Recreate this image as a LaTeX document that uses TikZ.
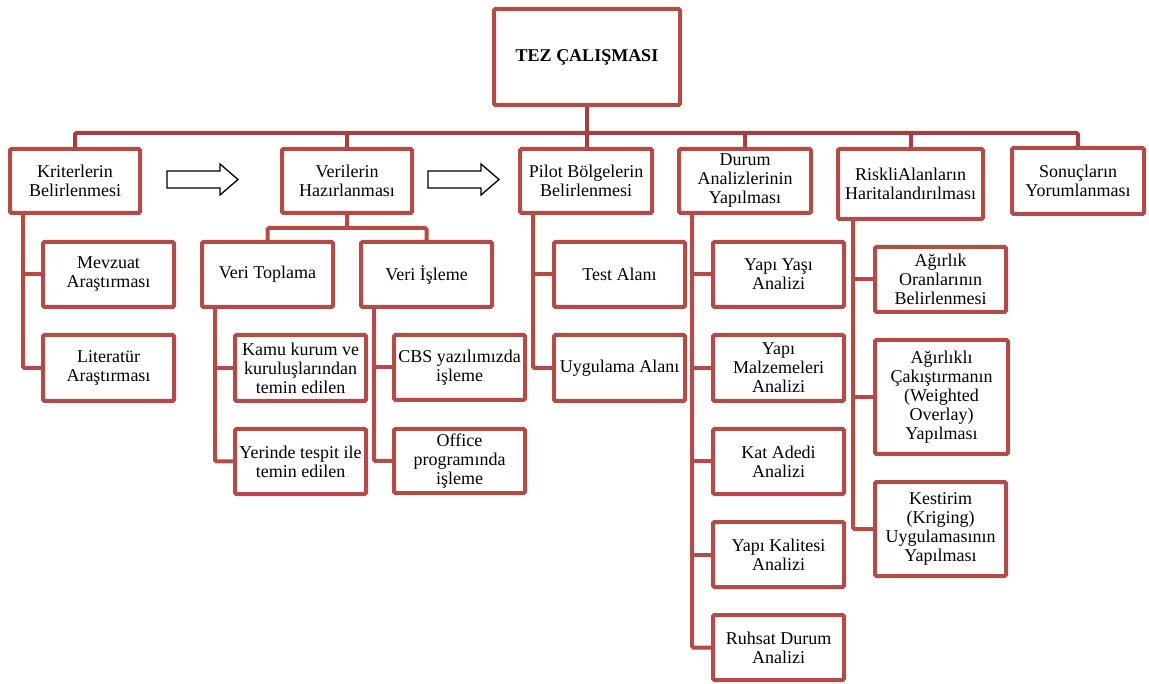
\documentclass[tikz,border=0pt]{standalone}
\usepackage{fontspec}
\setmainfont{Liberation Serif}
\usetikzlibrary{calc}
\definecolor{boxred}{RGB}{178,76,73}
\definecolor{busred}{RGB}{162,66,64}
\begin{document}
\begin{tikzpicture}[x=1pt,y=-1pt,
  box/.style={draw=boxred, line width=4pt, rounded corners=1.5pt, fill=white,
    align=center, inner sep=0pt, font=\fontsize{18}{19}\selectfont},
  conn/.style={draw=boxred, line width=4pt, rounded corners=1.5pt},
  busline/.style={conn, draw=busred},
  blockarrow/.style={draw=black, line width=1.3pt, fill=white, line join=miter}]
\useasboundingbox (0,0) rectangle (1149,684);

% top
\node[box, minimum width=186pt, minimum height=96pt,
  font=\bfseries\fontsize{18}{19}\selectfont] (tez) at (587,57) {TEZ ÇALIŞMASI};

% level 1
\node[box, minimum width=130pt, minimum height=64pt] (krit) at (75,181) {Kriterlerin\\Belirlenmesi};
\node[box, minimum width=130pt, minimum height=64pt] (veril) at (347,181) {Verilerin\\Hazırlanması};
\node[box, minimum width=132pt, minimum height=64pt] (pilot) at (586,181) {Pilot Bölgelerin\\Belirlenmesi};
\node[box, minimum width=132pt, minimum height=64pt] (durum) at (745,181) {Durum\\Analizlerinin\\Yapılması};
\node[box, minimum width=145pt, minimum height=70pt] (riskli) at (910.5,184) {RiskliAlanların\\Haritalandırılması};
\node[box, minimum width=132pt, minimum height=66pt] (sonuc) at (1078,181) {Sonuçların\\Yorumlanması};

% level 2
\node[box, minimum width=131pt, minimum height=65pt] (mevzuat) at (108.5,274.5) {Mevzuat\\Araştırması};
\node[box, minimum width=131pt, minimum height=66pt] (literatur) at (108.5,368) {Literatür\\Araştırması};
\node[box, minimum width=131pt, minimum height=65pt] (veritop) at (267.5,274.5) {Veri Toplama};
\node[box, minimum width=131pt, minimum height=65pt] (veriisl) at (426.5,274.5) {Veri İşleme};
\node[box, minimum width=131pt, minimum height=66pt] (kamu) at (300.5,368) {Kamu kurum ve\\kuruluşlarından\\temin edilen};
\node[box, minimum width=131pt, minimum height=65pt] (yerinde) at (300.5,461.5) {Yerinde tespit ile\\temin edilen};
\node[box, minimum width=131pt, minimum height=65pt] (cbs) at (459.5,367.5) {CBS yazılımızda\\işleme};
\node[box, minimum width=131pt, minimum height=64pt] (office) at (459.5,461) {Office\\programında\\işleme};
\node[box, minimum width=131pt, minimum height=65pt] (test) at (619.5,274.5) {Test Alanı};
\node[box, minimum width=131pt, minimum height=66pt] (uyg) at (619.5,368) {Uygulama Alanı};
\node[box, minimum width=131pt, minimum height=65pt] (yas) at (778.5,274.5) {Yapı Yaşı\\Analizi};
\node[box, minimum width=131pt, minimum height=66pt] (malz) at (778.5,368) {Yapı\\Malzemeleri\\Analizi};
\node[box, minimum width=131pt, minimum height=65pt] (kat) at (778.5,461.5) {Kat Adedi\\Analizi};
\node[box, minimum width=131pt, minimum height=65pt] (kalite) at (778.5,554.5) {Yapı Kalitesi\\Analizi};
\node[box, minimum width=131pt, minimum height=65pt] (ruhsat) at (778.5,647.5) {Ruhsat Durum\\Analizi};
\node[box, minimum width=131pt, minimum height=65pt] (agirlik) at (940.5,279.5) {Ağırlık\\Oranlarının\\Belirlenmesi};
\node[box, minimum width=133pt, minimum height=114pt] (agirlikli) at (941.5,397) {Ağırlıklı\\Çakıştırmanın\\(Weighted\\Overlay)\\Yapılması};
\node[box, minimum width=131pt, minimum height=94pt] (kestirim) at (940.5,529) {Kestirim\\(Kriging)\\Uygulamasının\\Yapılması};

% main bus
\coordinate (busy) at (0,133);
\draw[busline] (krit.north) |- (sonuc.north |- busy) -- (sonuc.north);
\draw[busline] (tez.south) -- (tez.south |- pilot.north);
\draw[busline] (veril.north |- busy) -- (veril.north);
\draw[busline] (durum.north |- busy) -- (durum.north);
\draw[busline] (riskli.north |- busy) -- (riskli.north);

% Kriterlerin children
\coordinate (k1) at ([xshift=15pt]krit.south west);
\draw[conn] (k1) |- (literatur.west);
\draw[conn] (k1 |- mevzuat.west) -- (mevzuat.west);

% Verilerin sub-bus
\coordinate (vb) at ($(veril.south)+(0,13)$);
\draw[conn] (veril.south) -- (vb);
\draw[conn] (veritop.north) |- (vb) -| (veriisl.north);

% Veri Toplama children
\coordinate (t1) at ([xshift=15pt]veritop.south west);
\draw[conn] (t1) |- (yerinde.west);
\draw[conn] (t1 |- kamu.west) -- (kamu.west);

% Veri Isleme children
\coordinate (i1) at ([xshift=15pt]veriisl.south west);
\draw[conn] (i1) |- (office.west);
\draw[conn] (i1 |- cbs.west) -- (cbs.west);

% Pilot children
\coordinate (p1) at ([xshift=15pt]pilot.south west);
\draw[conn] (p1) |- (uyg.west);
\draw[conn] (p1 |- test.west) -- (test.west);

% Durum children
\coordinate (d1) at ([xshift=15pt]durum.south west);
\draw[conn] (d1) |- (ruhsat.west);
\draw[conn] (d1 |- yas.west) -- (yas.west);
\draw[conn] (d1 |- malz.west) -- (malz.west);
\draw[conn] (d1 |- kat.west) -- (kat.west);
\draw[conn] (d1 |- kalite.west) -- (kalite.west);

% Riskli children
\coordinate (r1) at ([xshift=17pt]riskli.south west);
\draw[conn] (r1) |- (kestirim.west);
\draw[conn] (r1 |- agirlik.west) -- (agirlik.west);
\draw[conn] (r1 |- agirlikli.west) -- (agirlikli.west);

% block arrows
\draw[blockarrow] (167,171) -- (220,171) -- (220,164) -- (238,179.5) -- (220,195) -- (220,188) -- (167,188) -- cycle;
\draw[blockarrow] (428,171) -- (481,171) -- (481,164) -- (499,179.5) -- (481,195) -- (481,188) -- (428,188) -- cycle;
\end{tikzpicture}
\end{document}
